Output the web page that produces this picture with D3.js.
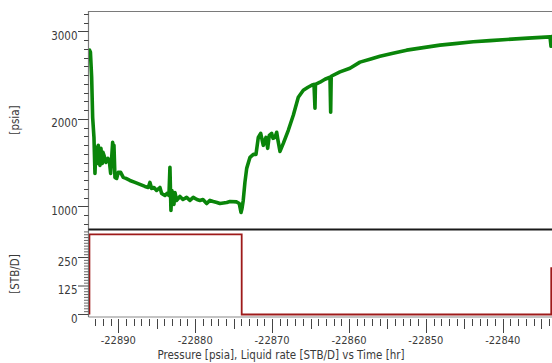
<!DOCTYPE html>
<html>
<head>
<meta charset="utf-8">
<script src="https://cdn.jsdelivr.net/npm/d3@7"></script>
<style>
  html, body { margin: 0; padding: 0; background: #fff; }
  svg { display: block; }
  text { font-family: "Liberation Sans Narrow", "Arial Narrow", "DejaVu Sans Condensed", sans-serif; fill: #3a3a3a; }
</style>
</head>
<body>
<svg id="chart" width="552" height="363"></svg>
<script>
// Bottom-hole pressure history (hr, psia)
const timeHr = [
  -22893.73, -22893.62, -22893.46, -22893.33, -22893.22, -22893.16, -22893.03, -22892.90,
  -22892.73, -22892.60, -22892.51, -22892.38, -22892.25, -22892.08, -22891.99, -22891.86,
  -22891.60, -22891.34, -22891.17, -22890.99, -22890.88, -22890.73, -22890.62, -22890.56,
  -22890.43, -22890.21, -22890.00, -22889.69, -22889.35, -22889.00, -22888.48, -22887.83,
  -22887.18, -22886.53, -22886.10, -22885.88, -22885.66, -22885.36, -22885.01, -22884.58,
  -22884.36, -22883.93, -22883.67, -22883.41, -22883.28, -22883.15, -22883.02, -22882.93,
  -22882.76, -22882.63, -22882.41, -22881.98, -22881.59, -22881.11, -22880.68, -22880.25,
  -22879.77, -22879.38, -22878.99, -22878.50, -22878.08, -22877.65, -22877.17, -22876.78,
  -22875.90, -22875.47, -22874.60, -22874.27, -22874.04, -22873.91, -22873.75, -22873.53,
  -22873.30, -22872.87, -22872.43, -22872.09, -22871.79, -22871.48, -22871.14, -22870.79,
  -22870.57, -22870.36, -22870.05, -22869.88, -22869.62, -22869.40, -22869.23, -22868.97,
  -22868.54, -22867.89, -22867.24, -22866.59, -22865.94, -22865.33, -22864.85, -22864.55,
  -22864.42, -22864.36, -22863.77, -22863.12, -22862.47, -22862.38, -22862.31, -22861.17,
  -22859.87, -22858.57, -22857.27, -22855.97, -22854.28, -22852.50, -22850.77, -22848.17,
  -22846.22, -22843.84, -22841.67, -22839.49, -22836.73, -22833.86, -22833.73, -22833.66
];
const pressurePsia = [
  2785, 2762, 2476, 2018, 1870, 1789, 1378, 1675,
  1492, 1698, 1526, 1469, 1664, 1492, 1618, 1584,
  1503, 1549, 1526, 1378, 1526, 1732, 1641, 1698,
  1332, 1320, 1389, 1389, 1332, 1320, 1297, 1275,
  1252, 1229, 1217, 1275, 1206, 1217, 1183, 1217,
  1149, 1126, 1149, 1126, 1446, 954, 1183, 1103,
  1023, 1160, 1069, 1114, 1080, 1103, 1069, 1103,
  1080, 1069, 1080, 1034, 1069, 1057, 1046, 1034,
  1046, 1057, 1052, 1034, 931, 977, 1069, 1275,
  1435, 1561, 1595, 1595, 1789, 1835, 1698, 1789,
  1664, 1812, 1835, 1778, 1789, 1847, 1755, 1629,
  1721, 1870, 2041, 2247, 2327, 2361, 2384, 2395,
  2121, 2395, 2419, 2453, 2476, 2075, 2487, 2537,
  2579, 2648, 2682, 2716, 2750, 2785, 2808, 2842,
  2859, 2880, 2894, 2907, 2922, 2937, 2830, 2940
];

// Liquid rate schedule (hr, STB/D), held constant from each time onward
const rateTime = [-22893.75, -22873.95, -22833.70];
const rateStb = [352, 0, 203];

// Axis ticks
const pressureMajorTicks = [1000, 2000, 3000];
const rateMajorTicks = [0, 125, 250];
const timeMajorTicks = [-22890, -22880, -22870, -22860, -22850, -22840];

const svg = d3.select("#chart");
const left = 88.5, right = 560;
const topY0 = 11, topY1 = 229.5, botY1 = 317;

const x = d3.scaleLinear().domain([-22893.87, -22832.56]).range([left, right]);
const yP = d3.scaleLinear().domain([737, 3232]).range([topY1, topY0]);
const yR = d3.scaleLinear().domain([-11, 373]).range([botY1, topY1]);

const clip = svg.append("defs").append("clipPath").attr("id", "plotclip");
clip.append("rect").attr("x", left + 0.5).attr("y", topY0).attr("width", right - left).attr("height", botY1 - topY0);

// Frame lines
svg.append("line").attr("x1", left).attr("x2", 552).attr("y1", topY0 + 0.5).attr("y2", topY0 + 0.5)
  .attr("stroke", "#7a7a7a").attr("stroke-width", 1.2);
svg.append("line").attr("x1", left).attr("x2", 552).attr("y1", botY1).attr("y2", botY1)
  .attr("stroke", "#8a8a8a").attr("stroke-width", 1.2);
svg.append("line").attr("x1", left).attr("x2", left).attr("y1", topY0).attr("y2", botY1)
  .attr("stroke", "#7a7a7a").attr("stroke-width", 1.2);

// Pressure y axis: minor every 100 psia, major every 1000 psia
const pMinor = d3.range(800, 3300, 100).filter(v => pressureMajorTicks.indexOf(v) < 0);
const yAxisG = svg.append("g");
yAxisG.selectAll("line.pminor").data(pMinor).join("line")
  .attr("x1", left - 4.5).attr("x2", left).attr("y1", d => Math.round(yP(d)) + 0.5).attr("y2", d => Math.round(yP(d)) + 0.5)
  .attr("stroke", "#444").attr("stroke-width", 1);
yAxisG.selectAll("line.pmajor").data(pressureMajorTicks).join("line")
  .attr("x1", left - 10.5).attr("x2", left).attr("y1", d => Math.round(yP(d)) + 0.5).attr("y2", d => Math.round(yP(d)) + 0.5)
  .attr("stroke", "#444").attr("stroke-width", 1);
yAxisG.selectAll("text").data(pressureMajorTicks).join("text")
  .attr("x", left - 11).attr("y", d => yP(d) + 8.5)
  .attr("text-anchor", "end").attr("font-size", 11.5).text(d => d);

// Rate y axis: minor every 12.5 STB/D, major every 125 STB/D
const rMinor = d3.range(0, 373, 12.5).filter(v => rateMajorTicks.indexOf(v) < 0);
const rAxisG = svg.append("g");
rAxisG.selectAll("line.rminor").data(rMinor).join("line")
  .attr("x1", left - 4.5).attr("x2", left).attr("y1", d => yR(d)).attr("y2", d => yR(d))
  .attr("stroke", "#555").attr("stroke-width", 0.9);
rAxisG.selectAll("line.rmajor").data(rateMajorTicks).join("line")
  .attr("x1", left - 10.5).attr("x2", left).attr("y1", d => yR(d)).attr("y2", d => yR(d))
  .attr("stroke", "#444").attr("stroke-width", 1);
rAxisG.selectAll("text").data(rateMajorTicks).join("text")
  .attr("x", left - 11).attr("y", d => yR(d) + 8.2)
  .attr("text-anchor", "end").attr("font-size", 11.5).text(d => d);

// Time x axis: minor every 1 hr, mid every 5 hr, major every 10 hr
const tTicks = d3.range(-22893, -22832, 1);
const xAxisG = svg.append("g");
xAxisG.selectAll("line").data(tTicks).join("line")
  .attr("x1", d => Math.round(x(d)) + 0.5).attr("x2", d => Math.round(x(d)) + 0.5)
  .attr("y1", botY1 + 2)
  .attr("y2", d => botY1 + (d % 10 === 0 ? 16 : (d % 5 === 0 ? 12 : 9)))
  .attr("stroke", "#444").attr("stroke-width", 1);
xAxisG.selectAll("text").data(timeMajorTicks).join("text")
  .attr("x", d => x(d)).attr("y", 343.5)
  .attr("text-anchor", "middle").attr("font-size", 11).text(d => d);

// Panel separator
svg.append("line").attr("x1", left).attr("x2", 552).attr("y1", topY1).attr("y2", topY1)
  .attr("stroke", "#1a1a1a").attr("stroke-width", 2);

// Pressure curve
const pData = timeHr.map((t, i) => [t, pressurePsia[i]]);
svg.append("path").datum(pData)
  .attr("clip-path", "url(#plotclip)")
  .attr("fill", "none").attr("stroke", "#0a850a").attr("stroke-width", 3.6)
  .attr("stroke-linejoin", "round").attr("stroke-linecap", "round")
  .attr("d", d3.line().x(d => x(d[0])).y(d => yP(d[1])));

// Rate step line
const rData = [[rateTime[0], 0]].concat(rateTime.map((t, i) => [t, rateStb[i]]), [[x.domain()[1], rateStb[rateStb.length - 1]]]);
svg.append("path").datum(rData)
  .attr("clip-path", "url(#plotclip)")
  .attr("fill", "none").attr("stroke", "#9e1a1a").attr("stroke-width", 1.8)
  .attr("d", d3.line().curve(d3.curveStepAfter).x(d => x(d[0])).y(d => yR(d[1])));

// Axis titles
svg.append("text").attr("transform", "translate(19,120) rotate(-90)")
  .attr("text-anchor", "middle").attr("font-size", 11.5).text("[psia]");
svg.append("text").attr("transform", "translate(19,274) rotate(-90)")
  .attr("text-anchor", "middle").attr("font-size", 11.5).text("[STB/D]");
svg.append("text").attr("x", 281).attr("y", 358.5)
  .attr("text-anchor", "middle").attr("font-size", 11.5).text("Pressure [psia], Liquid rate [STB/D] vs Time [hr]");
</script>
</body>
</html>
